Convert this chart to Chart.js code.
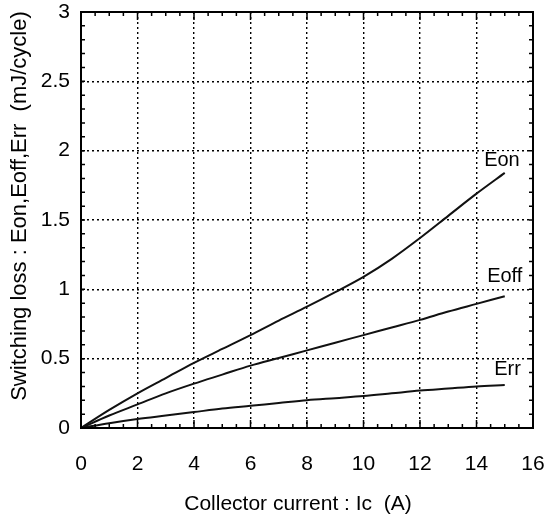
<!DOCTYPE html>
<html lang="en">
<head>
    <meta charset="UTF-8">
    <title>Switching loss vs Collector current</title>
    <script src="https://cdn.jsdelivr.net/npm/chart.js"></script>
    <style>
        html, body { margin: 0; padding: 0; background: #fff; }
        #wrap { width: 548px; height: 514px; }
    </style>
</head>
<body>
<div id="wrap"><canvas id="lossChart" width="548" height="514"></canvas></div>

<script>
    // values (A -> mJ/cycle)
    const current = [0, 1, 2, 3, 4, 5, 6, 7, 8, 9, 10, 11, 12, 13, 14, 15];
    const eon  = [0, 0.13, 0.25, 0.36, 0.47, 0.57, 0.67, 0.775, 0.875, 0.98, 1.09, 1.22, 1.37, 1.53, 1.69, 1.84];
    const eoff = [0, 0.09, 0.17, 0.25, 0.32, 0.385, 0.45, 0.505, 0.56, 0.615, 0.67, 0.725, 0.78, 0.84, 0.895, 0.95];
    const err  = [0, 0.035, 0.065, 0.09, 0.115, 0.14, 0.16, 0.18, 0.20, 0.215, 0.23, 0.25, 0.27, 0.285, 0.30, 0.31];

    const xTicks = [0, 2, 4, 6, 8, 10, 12, 14, 16];
    const yTicks = [0, 0.5, 1, 1.5, 2, 2.5, 3];

    const curveNames = ['Eon', 'Eoff', 'Err'];
    const curveLabelAt = [[14.9, 1.93], [15.0, 1.09], [15.1, 0.42]];

    const xTitle = 'Collector current : Ic  (A)';
    const yTitle = 'Switching loss : Eon,Eoff,Err  (mJ/cycle)';

    const FONT = '"Liberation Sans", Arial, sans-serif';

    function toPoints(ys) {
        return current.map((x, i) => ({ x: x, y: ys[i] }));
    }

    function lineSet(name, ys) {
        return {
            label: name,
            data: toPoints(ys),
            borderColor: '#111',
            borderWidth: 2,
            pointRadius: 0,
            fill: false,
            cubicInterpolationMode: 'monotone'
        };
    }

    // frame, small inner ticks, curve names and axis titles
    const decorations = {
        id: 'decorations',
        afterDraw(chart) {
            const ctx = chart.ctx;
            const a = chart.chartArea;
            const xs = chart.scales.x;
            const ys = chart.scales.y;
            ctx.save();
            ctx.strokeStyle = '#000';
            ctx.lineWidth = 1.5;
            ctx.beginPath();
            for (let v = 0; v <= 16.001; v += 0.5) {
                const px = xs.getPixelForValue(v);
                const len = (Math.abs(v % 2) < 0.01) ? 8 : 4;
                ctx.moveTo(px, a.bottom); ctx.lineTo(px, a.bottom - len);
                ctx.moveTo(px, a.top); ctx.lineTo(px, a.top + len);
            }
            for (let v = 0; v <= 3.001; v += 0.1) {
                const py = ys.getPixelForValue(v);
                ctx.moveTo(a.left, py); ctx.lineTo(a.left + 4, py);
                ctx.moveTo(a.right, py); ctx.lineTo(a.right - 4, py);
            }
            ctx.stroke();

            ctx.lineWidth = 2;
            ctx.strokeRect(a.left, a.top, a.right - a.left, a.bottom - a.top);

            ctx.fillStyle = '#000';
            ctx.textAlign = 'center';
            ctx.textBaseline = 'middle';
            ctx.font = '20px ' + FONT;
            curveNames.forEach((n, i) => {
                const px = xs.getPixelForValue(curveLabelAt[i][0]);
                const py = ys.getPixelForValue(curveLabelAt[i][1]);
                const w = ctx.measureText(n).width;
                ctx.fillStyle = '#fff';
                ctx.fillRect(px - w / 2 - 1, py - 9, w + 2, 18);
                ctx.fillStyle = '#000';
                ctx.fillText(n, px, py);
            });

            ctx.font = '21px ' + FONT;
            ctx.fillText(xTitle, 298, 504);

            ctx.translate(20, 206);
            ctx.rotate(-Math.PI / 2);
            ctx.font = '22px ' + FONT;
            ctx.fillText(yTitle, 0, 0);
            ctx.restore();
        }
    };

    const ctx = document.getElementById('lossChart').getContext('2d');
    new Chart(ctx, {
        type: 'line',
        data: {
            datasets: [
                lineSet(curveNames[0], eon),
                lineSet(curveNames[1], eoff),
                lineSet(curveNames[2], err)
            ]
        },
        options: {
            responsive: false,
            animation: false,
            layout: { padding: { left: 0, right: 15, top: 12, bottom: 0 } },
            plugins: {
                legend: { display: false },
                tooltip: { enabled: false }
            },
            scales: {
                x: {
                    type: 'linear',
                    min: 0,
                    max: 16,
                    afterFit: s => { s.height = 86; s.paddingLeft = 0; s.paddingRight = 0; },
                    afterBuildTicks: s => { s.ticks = xTicks.map(v => ({ value: v })); },
                    ticks: {
                        color: '#000',
                        font: { family: FONT, size: 21 },
                        padding: 24,
                        maxRotation: 0
                    },
                    grid: { color: '#000', lineWidth: 1.4, drawTicks: false },
                    border: { color: '#000', width: 2, dash: [2, 3] }
                },
                y: {
                    min: 0,
                    max: 3,
                    afterFit: s => { s.width = 81; s.paddingTop = 0; s.paddingBottom = 0; },
                    afterBuildTicks: s => { s.ticks = yTicks.map(v => ({ value: v })); },
                    ticks: {
                        color: '#000',
                        font: { family: FONT, size: 21 },
                        padding: 11,
                        callback: v => String(v)
                    },
                    grid: { color: '#000', lineWidth: 1.4, drawTicks: false },
                    border: { color: '#000', width: 2, dash: [2, 3] }
                }
            }
        },
        plugins: [decorations]
    });
</script>
</body>
</html>
